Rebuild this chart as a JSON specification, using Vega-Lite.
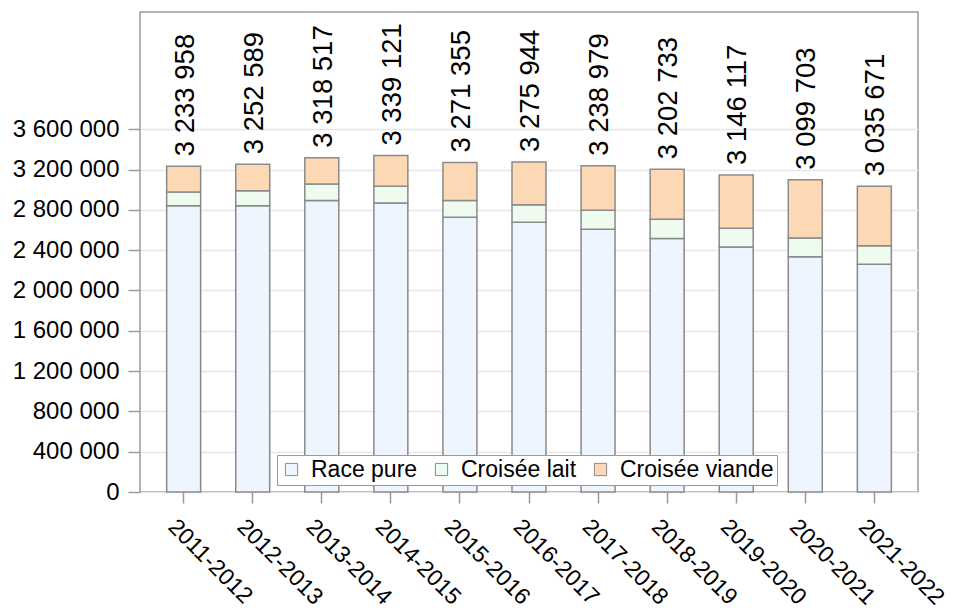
{
  "$schema": "https://vega.github.io/schema/vega-lite/v6.json",
  "autosize": {"type": "none"},
  "width": 778,
  "height": 480,
  "padding": {"left": 140, "top": 12, "right": 36, "bottom": 118},
  "background": "white",
  "config": {
    "font": "Liberation Sans",
    "view": {"stroke": "#9a9a9a", "strokeWidth": 1.5},
    "axis": {"labelFont": "Liberation Sans", "labelColor": "#000000", "titleFont": "Liberation Sans"},
    "legend": {"labelFont": "Liberation Sans"}
  },
  "datasets": {
    "segments": [
      {"annee": "2011-2012", "type": "Race pure", "k": 1, "valeur": 2842000},
      {"annee": "2011-2012", "type": "Croisée lait", "k": 2, "valeur": 135500},
      {"annee": "2011-2012", "type": "Croisée viande", "k": 3, "valeur": 256458},
      {"annee": "2012-2013", "type": "Race pure", "k": 1, "valeur": 2842000},
      {"annee": "2012-2013", "type": "Croisée lait", "k": 2, "valeur": 149000},
      {"annee": "2012-2013", "type": "Croisée viande", "k": 3, "valeur": 261589},
      {"annee": "2013-2014", "type": "Race pure", "k": 1, "valeur": 2892000},
      {"annee": "2013-2014", "type": "Croisée lait", "k": 2, "valeur": 165000},
      {"annee": "2013-2014", "type": "Croisée viande", "k": 3, "valeur": 261517},
      {"annee": "2014-2015", "type": "Race pure", "k": 1, "valeur": 2868000},
      {"annee": "2014-2015", "type": "Croisée lait", "k": 2, "valeur": 166000},
      {"annee": "2014-2015", "type": "Croisée viande", "k": 3, "valeur": 305121},
      {"annee": "2015-2016", "type": "Race pure", "k": 1, "valeur": 2726000},
      {"annee": "2015-2016", "type": "Croisée lait", "k": 2, "valeur": 166000},
      {"annee": "2015-2016", "type": "Croisée viande", "k": 3, "valeur": 379355},
      {"annee": "2016-2017", "type": "Race pure", "k": 1, "valeur": 2677000},
      {"annee": "2016-2017", "type": "Croisée lait", "k": 2, "valeur": 175000},
      {"annee": "2016-2017", "type": "Croisée viande", "k": 3, "valeur": 423944},
      {"annee": "2017-2018", "type": "Race pure", "k": 1, "valeur": 2607000},
      {"annee": "2017-2018", "type": "Croisée lait", "k": 2, "valeur": 189000},
      {"annee": "2017-2018", "type": "Croisée viande", "k": 3, "valeur": 442979},
      {"annee": "2018-2019", "type": "Race pure", "k": 1, "valeur": 2515000},
      {"annee": "2018-2019", "type": "Croisée lait", "k": 2, "valeur": 191000},
      {"annee": "2018-2019", "type": "Croisée viande", "k": 3, "valeur": 496733},
      {"annee": "2019-2020", "type": "Race pure", "k": 1, "valeur": 2432000},
      {"annee": "2019-2020", "type": "Croisée lait", "k": 2, "valeur": 185000},
      {"annee": "2019-2020", "type": "Croisée viande", "k": 3, "valeur": 529117},
      {"annee": "2020-2021", "type": "Race pure", "k": 1, "valeur": 2336000},
      {"annee": "2020-2021", "type": "Croisée lait", "k": 2, "valeur": 185000},
      {"annee": "2020-2021", "type": "Croisée viande", "k": 3, "valeur": 578703},
      {"annee": "2021-2022", "type": "Race pure", "k": 1, "valeur": 2260000},
      {"annee": "2021-2022", "type": "Croisée lait", "k": 2, "valeur": 185000},
      {"annee": "2021-2022", "type": "Croisée viande", "k": 3, "valeur": 590671}
    ],
    "totaux": [
      {"annee": "2011-2012", "total": 3233958, "etiquette": "3 233 958"},
      {"annee": "2012-2013", "total": 3252589, "etiquette": "3 252 589"},
      {"annee": "2013-2014", "total": 3318517, "etiquette": "3 318 517"},
      {"annee": "2014-2015", "total": 3339121, "etiquette": "3 339 121"},
      {"annee": "2015-2016", "total": 3271355, "etiquette": "3 271 355"},
      {"annee": "2016-2017", "total": 3275944, "etiquette": "3 275 944"},
      {"annee": "2017-2018", "total": 3238979, "etiquette": "3 238 979"},
      {"annee": "2018-2019", "total": 3202733, "etiquette": "3 202 733"},
      {"annee": "2019-2020", "total": 3146117, "etiquette": "3 146 117"},
      {"annee": "2020-2021", "total": 3099703, "etiquette": "3 099 703"},
      {"annee": "2021-2022", "total": 3035671, "etiquette": "3 035 671"}
    ]
  },
  "encoding": {
    "x": {
      "field": "annee",
      "type": "nominal",
      "sort": null,
      "scale": {"paddingInner": 0.508, "paddingOuter": 0.386},
      "axis": {
        "title": null,
        "labelAngle": 45,
        "labelAlign": "left",
        "labelBaseline": "top",
        "labelFontSize": 23,
        "labelPadding": 12,
        "labelOffset": -4,
        "tickSize": 11,
        "tickColor": "#9a9a9a",
        "tickWidth": 1.5,
        "domain": false,
        "grid": false
      }
    }
  },
  "layer": [
    {
      "data": {"name": "segments"},
      "mark": {"type": "bar", "stroke": "#8a8a8a", "strokeWidth": 1.5},
      "encoding": {
        "y": {
          "field": "valeur",
          "type": "quantitative",
          "stack": "zero",
          "scale": {"domain": [0, 4764000], "nice": false, "zero": true},
          "axis": {
            "title": null,
            "values": [0, 400000, 800000, 1200000, 1600000, 2000000, 2400000, 2800000, 3200000, 3600000],
            "labelExpr": "replace(format(datum.value, ','), regexp(',', 'g'), ' ')",
            "labelFontSize": 24,
            "labelPadding": 9,
            "tickSize": 12,
            "tickColor": "#9a9a9a",
            "tickWidth": 1.5,
            "domain": false,
            "grid": true,
            "gridColor": "#e6e6e6",
            "gridWidth": 1.5
          }
        },
        "order": {"field": "k", "type": "quantitative"},
        "color": {
          "field": "type",
          "type": "nominal",
          "scale": {
            "domain": ["Race pure", "Croisée lait", "Croisée viande"],
            "range": ["#eef5ff", "#edfcee", "#fdd8b4"]
          },
          "legend": {
            "title": null,
            "orient": "none",
            "legendX": 137,
            "legendY": 443,
            "direction": "horizontal",
            "columns": 3,
            "gridAlign": "none",
            "fillColor": "white",
            "strokeColor": "#9a9a9a",
            "padding": 3,
            "labelFontSize": 23,
            "labelColor": "#000000",
            "labelOffset": 8,
            "columnPadding": 12,
            "symbolType": "square",
            "symbolSize": 150,
            "symbolStrokeColor": "#8a8a8a",
            "symbolStrokeWidth": 1
          }
        }
      }
    },
    {
      "data": {"name": "totaux"},
      "mark": {
        "type": "text",
        "angle": -90,
        "align": "left",
        "baseline": "middle",
        "dx": 10,
        "dy": 2,
        "fontSize": 27.5,
        "font": "Liberation Sans",
        "color": "#000000"
      },
      "encoding": {
        "y": {"field": "total", "type": "quantitative"},
        "text": {"field": "etiquette", "type": "nominal"}
      }
    }
  ]
}
